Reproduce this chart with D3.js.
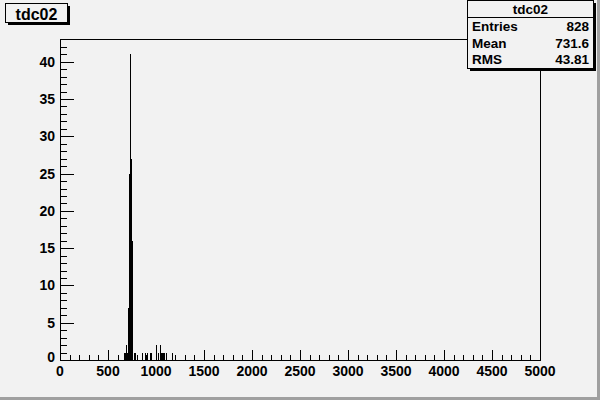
<!DOCTYPE html>
<html><head><meta charset="utf-8">
<script src="https://cdn.jsdelivr.net/npm/d3@7"></script>
<style>body{margin:0;background:#f2f2f2;} svg{display:block;font-family:"Liberation Sans",Arial,sans-serif;}</style>
</head><body>
<svg id="c" width="600" height="400"></svg>
<script>
// Histogram "tdc02": bin low edges (bin width 10) and contents
const binWidth = 10;
const binLow = [660,670,680,690,700,710,720,730,740,750,770,780,850,880,900,930,940,1000,1020,1040,1050,1060,1070,1080,1100,1160];
const counts = [1,1,2,1,7,25,41,27,16,5,1,1,1,1,1,1,1,2,1,2,1,1,1,1,1,1];
const xTicks = [0,500,1000,1500,2000,2500,3000,3500,4000,4500,5000];
const yTicks = [0,5,10,15,20,25,30,35,40];
const statsLabels = ["Entries","Mean","RMS"];
const statsValues = ["828","731.6","43.81"];
const title = "tdc02";

const svg = d3.select("#c");
svg.append("rect").attr("width",600).attr("height",400).attr("fill","#f2f2f2");
// canvas bevel
svg.append("rect").attr("x",0).attr("y",397).attr("width",600).attr("height",3).attr("fill","#a0a0a0");
svg.append("rect").attr("x",597).attr("y",0).attr("width",3).attr("height",400).attr("fill","#a0a0a0");

const L=60,R=540,T=39,B=360;
const x = d3.scaleLinear().domain([0,5000]).range([L,R]);
const y = d3.scaleLinear().domain([0,43.05]).range([B,T]);

// frame
svg.append("rect").attr("x",L+0.5).attr("y",T+0.5).attr("width",R-L).attr("height",B-T)
  .attr("fill","none").attr("stroke","#000").attr("stroke-width",1);

// histogram bars
const g = svg.append("g");
binLow.forEach((lo,i)=>{
  const xc = Math.round(x(lo+binWidth/2))+0.5;
  g.append("line").attr("x1",xc).attr("x2",xc).attr("y1",y(0)).attr("y2",y(counts[i]))
   .attr("stroke","#000").attr("stroke-width",1).attr("shape-rendering","crispEdges");
});

// x axis ticks
const xMinor = d3.range(0,5001,100);
xMinor.forEach(v=>{
  const major = v%500===0;
  const xp = Math.round(x(v))+0.5;
  svg.append("line").attr("x1",xp).attr("x2",xp).attr("y1",B).attr("y2",B-(major?10:5))
    .attr("stroke","#000").attr("shape-rendering","crispEdges");
});
xTicks.forEach(v=>{
  svg.append("text").attr("x",x(v)).attr("y",375.5).attr("text-anchor","middle")
    .attr("font-size",14).attr("font-weight","bold").text(v);
});
// y axis ticks
d3.range(0,44,1).forEach(v=>{
  const major = v%5===0;
  const yp = Math.round(y(v))+0.5;
  svg.append("line").attr("x1",L).attr("x2",L+(major?14:7)).attr("y1",yp).attr("y2",yp)
    .attr("stroke","#000").attr("shape-rendering","crispEdges");
});
yTicks.forEach(v=>{
  svg.append("text").attr("x",55).attr("y",y(v)+(v===0?1.5:5)).attr("text-anchor","end")
    .attr("font-size",14).attr("font-weight","bold").text(v);
});
// axis lines
svg.append("line").attr("x1",L+0.5).attr("x2",L+0.5).attr("y1",T).attr("y2",B+0.5).attr("stroke","#000");
svg.append("line").attr("x1",L).attr("x2",R+0.5).attr("y1",B+0.5).attr("y2",B+0.5).attr("stroke","#000");

// title box with shadow
svg.append("rect").attr("x",8).attr("y",6).attr("width",62).attr("height",19).attr("fill","#000");
svg.append("rect").attr("x",5.5).attr("y",3.5).attr("width",62).attr("height",19)
  .attr("fill","#f2f2f2").attr("stroke","#000");
svg.append("text").attr("x",36.5).attr("y",19.5).attr("text-anchor","middle")
  .attr("font-size",16).attr("font-weight","bold").text(title);

// stats box with shadow
svg.append("rect").attr("x",470).attr("y",3).attr("width",126).attr("height",68).attr("fill","#000");
svg.append("rect").attr("x",467.5).attr("y",0.5).attr("width",126).attr("height",68)
  .attr("fill","#f2f2f2").attr("stroke","#000");
svg.append("line").attr("x1",467.5).attr("x2",593.5).attr("y1",17.5).attr("y2",17.5).attr("stroke","#000");
svg.append("text").attr("x",530.5).attr("y",13.5).attr("text-anchor","middle")
  .attr("font-size",13.5).attr("font-weight","bold").text(title);
statsLabels.forEach((s,i)=>{
  const yy = 31 + i*16.5;
  svg.append("text").attr("x",472).attr("y",yy).attr("font-size",13.5).attr("font-weight","bold").text(s);
  svg.append("text").attr("x",589).attr("y",yy).attr("text-anchor","end").attr("font-size",13.5).attr("font-weight","bold").text(statsValues[i]);
});
</script>
</body></html>
